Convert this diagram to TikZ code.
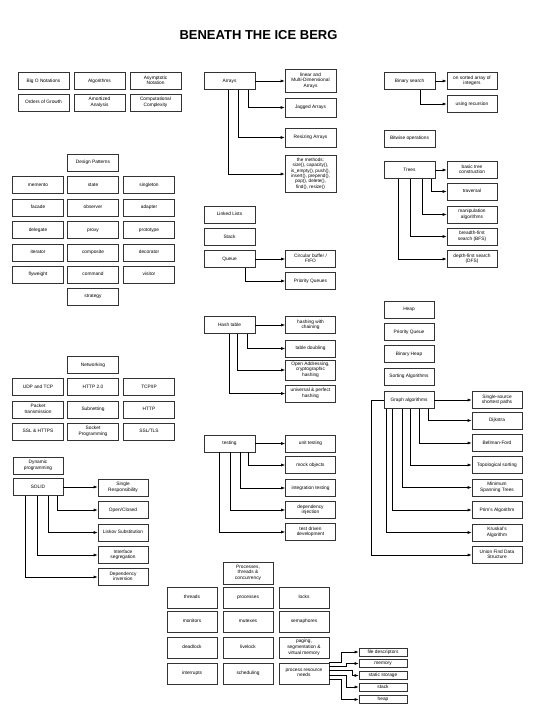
\documentclass[tikz,border=0pt]{standalone}
\usepackage{fontspec}
\setmainfont{Liberation Sans}
\usetikzlibrary{arrows.meta}
\definecolor{boxline}{HTML}{333333}

\tikzset{
  box/.style={draw=boxline,line width=0.6pt,minimum width=51pt,minimum height=17pt,
    inner sep=0.5pt,align=center,font=\fontsize{4.8}{5.6}\selectfont,
    execute at begin node=\strut,execute at end node=\strut},
  smallbox/.style={box,minimum width=48pt,minimum height=8pt},
  link/.style={-{Latex[length=4pt,width=3pt]},line width=0.6pt},
}

\begin{document}
\begin{tikzpicture}[x=1pt,y=-1pt]
  \useasboundingbox (0,0) rectangle (534,714);
  \node[font=\fontsize{13}{15}\selectfont\bfseries] (title) at (258.5,35) {BENEATH THE ICE BERG};

  % complexity
  \node[box] (bigo)   at (43.5,81)    {Big O Notations};
  \node[box] (algos)  at (99.5,81)    {Algorithms};
  \node[box] (asym)   at (155.5,81)   {Asymptotic\\Notation};
  \node[box] (orders) at (43.5,102.5) {Orders of Growth};
  \node[box] (amort)  at (99.5,102.5) {Amortized\\Analysis};
  \node[box] (compl)  at (155.5,102.5) {Computational\\Complexity};

  % arrays
  \node[box] (arr) at (229.5,81) {Arrays};
  \node[box,minimum height=23pt] (arrlin) at (310.5,81) {linear and\\Multi-Dimensional\\Arrays};
  \node[box,minimum height=19pt] (arrjag) at (310.5,107.5) {Jagged Arrays};
  \node[box,minimum height=19pt] (arrres) at (310.5,137.5) {Resizing Arrays};
  \node[box,minimum height=37pt,font=\fontsize{4.7}{5.3}\selectfont] (arrmeth) at (310.5,174) {the methods:\\size(), capacity(),\\is\_empty(), push(),\\insert(), prepend(),\\pop(), delete(),\\find(), resize()};
  \draw[link] (arr.east) -- (arrlin.west |- arr.east);
  \draw[link] ([xshift=-7pt]arr.south east) |- (arrjag.west);
  \draw[link] ([xshift=-17pt]arr.south east) |- (arrres.west);
  \draw[link] ([xshift=-27pt]arr.south east) |- (arrmeth.west);

  % binary search
  \node[box] (bsearch) at (409.5,81) {Binary search};
  \node[box,minimum width=50pt] (bsorted) at (472,81) {on sorted array of\\integers};
  \node[box,minimum width=50pt] (brec) at (472,104) {using recursion};
  \draw[link] (bsearch.east) -- (bsorted.west);
  \draw[link] ([xshift=-15pt]bsearch.south east) |- (brec.west);

  \node[box] (bitwise) at (409.5,138.5) {Bitwise operations};

  % trees
  \node[box] (trees) at (409.5,170) {Trees};
  \node[box,minimum width=50pt] (tbasic) at (472,170)   {basic tree\\construction};
  \node[box,minimum width=50pt] (ttrav)  at (472,191.5) {traversal};
  \node[box,minimum width=50pt] (tmanip) at (472,214.5) {manipulation\\algorithms};
  \node[box,minimum width=50pt] (tbfs)   at (472,236.5) {breadth-first\\search (BFS)};
  \node[box,minimum width=50pt] (tdfs)   at (472,259)   {depth-first search\\(DFS)};
  \draw[link] (trees.east) -- (tbasic.west);
  \draw[link] ([xshift=-4pt]trees.south east) |- (ttrav.west);
  \draw[link] ([xshift=-13pt]trees.south east) |- (tmanip.west);
  \draw[link] ([xshift=-25pt]trees.south east) |- (tbfs.west);
  \draw[link] ([xshift=-37pt]trees.south east) |- (tdfs.west);

  % design patterns
  \node[box] (dpat) at (93,162.5) {Design Patterns};
  \node[box] (memento)   at (38,185)    {memento};
  \node[box] (state)     at (93,185)    {state};
  \node[box] (singleton) at (149,185)   {singleton};
  \node[box] (facade)    at (38,207.5)  {facade};
  \node[box] (observer)  at (93,207.5)  {observer};
  \node[box] (adapter)   at (149,207.5) {adapter};
  \node[box] (delegate)  at (38,230)    {delegate};
  \node[box] (proxy)     at (93,230)    {proxy};
  \node[box] (prototype) at (149,230)   {prototype};
  \node[box] (iterator)  at (38,252.5)  {iterator};
  \node[box] (composite) at (93,252.5)  {composite};
  \node[box] (decorator) at (149,252.5) {decorator};
  \node[box] (flyweight) at (38,274.5)  {flyweight};
  \node[box] (command)   at (93,274.5)  {command};
  \node[box] (visitor)   at (149,274.5) {visitor};
  \node[box] (strategy)  at (93,296.5)  {strategy};

  % lists, stack, queue
  \node[box] (lists) at (229.5,214.5) {Linked Lists};
  \node[box] (stack) at (229.5,237)   {Stack};
  \node[box] (queue) at (229.5,259)   {Queue};
  \node[box,minimum width=50pt] (qcirc) at (310.5,259) {Circular buffer /\\FIFO};
  \node[box,minimum width=50pt] (qprio) at (310.5,281) {Priority Queues};
  \draw[link] (queue.east) -- (qcirc.west);
  \draw[link] ([xshift=-10pt]queue.south east) |- (qprio.west);

  % hash table
  \node[box] (hash) at (229.5,325) {Hash table};
  \node[box,minimum width=50pt] (hchain) at (310.5,325)   {hashing with\\chaining};
  \node[box,minimum width=50pt] (hdoub)  at (310.5,348.5) {table doubling};
  \node[box,minimum width=50pt,minimum height=20pt] (hopen) at (310.5,370) {Open Addressing,\\cryptographic\\hashing};
  \node[box,minimum width=50pt] (huniv)  at (310.5,393.5) {universal \& perfect\\hashing};
  \draw[link] (hash.east) -- (hchain.west);
  \draw[link] ([xshift=-8pt]hash.south east) |- (hdoub.west);
  \draw[link] ([xshift=-18pt]hash.south east) |- (hopen.west);
  \draw[link] ([xshift=-26pt]hash.south east) |- (huniv.west);

  % heaps and graphs
  \node[box,minimum width=50pt] (heap)    at (409,309.5) {Heap};
  \node[box,minimum width=50pt] (pqueue)  at (409,332)   {Priority Queue};
  \node[box,minimum width=50pt] (bheap)   at (409,354)   {Binary Heap};
  \node[box,minimum width=50pt] (sorting) at (409,376.5) {Sorting Algorithms};
  \node[box,minimum width=50pt] (graph)   at (409,400)   {Graph algorithms};
  \node[box,minimum width=50pt] (gsssp) at (497,400)   {Single-source\\shortest paths};
  \node[box,minimum width=50pt] (gdijk) at (497,420.5) {Dijkstra};
  \node[box,minimum width=50pt] (gbell) at (497,443)   {Bellman-Ford};
  \node[box,minimum width=50pt] (gtopo) at (497,465)   {Topological sorting};
  \node[box,minimum width=50pt] (gmst)  at (497,487.5) {Minimum\\Spanning Trees};
  \node[box,minimum width=50pt] (gprim) at (497,510)   {Prim's Algorithm};
  \node[box,minimum width=50pt] (gkrus) at (497,532.5) {Kruskal's\\Algorithm};
  \node[box,minimum width=50pt] (guf)   at (497,555)   {Union Find Data\\Structure};
  \draw[link] (graph.east) -- (gsssp.west);
  \draw[link] ([xshift=-6pt]graph.south east) |- (gdijk.west);
  \draw[link] ([xshift=-15pt]graph.south east) |- (gbell.west);
  \draw[link] ([xshift=-24pt]graph.south east) |- (gtopo.west);
  \draw[link] ([xshift=-32pt]graph.south east) |- (gmst.west);
  \draw[link] ([xshift=-42pt]graph.south east) |- (gprim.west);
  \draw[link] ([xshift=-48pt]graph.south east) |- (gkrus.west);
  \draw[link] (graph.west) -- ++(-12pt,0) |- (guf.west);

  % networking
  \node[box] (net) at (93,365) {Networking};
  \node[box] (udp)    at (38,387)    {UDP and TCP};
  \node[box] (http2)  at (93,387)    {HTTP 2.0};
  \node[box] (tcpip)  at (149,387)   {TCP/IP};
  \node[box] (packet) at (38,409.5)  {Packet\\transmission};
  \node[box] (subnet) at (93,409.5)  {Subnetting};
  \node[box] (http)   at (149,409.5) {HTTP};
  \node[box] (https)  at (38,431.5)  {SSL \& HTTPS};
  \node[box] (socket) at (93,431.5)  {Socket\\Programming};
  \node[box] (ssltls) at (149,431.5) {SSL/TLS};

  % testing
  \node[box] (testing) at (229.5,443.5) {testing};
  \node[box,minimum width=50pt] (tunit) at (310.5,443.5) {unit testing};
  \node[box,minimum width=50pt] (tmock) at (310.5,465)   {mock objects};
  \node[box,minimum width=50pt] (tint)  at (310.5,488)   {integration testing};
  \node[box,minimum width=50pt] (tdep)  at (310.5,510)   {dependency\\injection};
  \node[box,minimum width=50pt] (ttdd)  at (310.5,532)   {test driven\\development};
  \draw[link] (testing.east) -- (tunit.west);
  \draw[link] ([xshift=-7pt]testing.south east) |- (tmock.west);
  \draw[link] ([xshift=-15pt]testing.south east) |- (tint.west);
  \draw[link] ([xshift=-25pt]testing.south east) |- (tdep.west);
  \draw[link] ([xshift=-36pt]testing.south east) |- (ttdd.west);

  % solid
  \node[box,minimum width=50pt] (dynprog) at (38,465.5) {Dynamic\\programming};
  \node[box,minimum width=50pt] (solid)   at (38,487)   {SOLID};
  \node[box,minimum width=50pt] (ssingle) at (123,487.5) {Single\\Responsibility};
  \node[box,minimum width=50pt] (sopen)   at (123,510)   {Open/Closed};
  \node[box,minimum width=50pt] (sliskov) at (123,532.5) {Liskov Substitution};
  \node[box,minimum width=50pt] (sinter)  at (123,555)   {Interface\\segregation};
  \node[box,minimum width=50pt] (sdep)    at (123,577)   {Dependency\\inversion};
  \draw[link] (solid.east) -- (ssingle.west |- solid.east);
  \draw[link] ([xshift=-6pt]solid.south east) |- (sopen.west);
  \draw[link] ([xshift=-15pt]solid.south east) |- (sliskov.west);
  \draw[link] ([xshift=-26pt]solid.south east) |- (sinter.west);
  \draw[link] ([xshift=-38pt]solid.south east) |- (sdep.west);

  % concurrency
  \node[box,minimum width=50pt,minimum height=22pt] (procs) at (248,573) {Processes,\\threads \&\\concurrency};
  \node[box,minimum width=50pt,minimum height=21pt] (threads)    at (192,597.5) {threads};
  \node[box,minimum width=50pt,minimum height=21pt] (processes)  at (248,597.5) {processes};
  \node[box,minimum width=50pt,minimum height=21pt] (locks)      at (304,597.5) {locks};
  \node[box,minimum width=50pt,minimum height=21pt] (monitors)   at (192,621.5) {monitors};
  \node[box,minimum width=50pt,minimum height=21pt] (mutexes)    at (248,621.5) {mutexes};
  \node[box,minimum width=50pt,minimum height=21pt] (semaphores) at (304,621.5) {semaphores};
  \node[box,minimum width=50pt,minimum height=21pt] (deadlock)   at (192,647.5) {deadlock};
  \node[box,minimum width=50pt,minimum height=21pt] (livelock)   at (248,647.5) {livelock};
  \node[box,minimum width=50pt,minimum height=21pt] (paging)     at (304,647.5) {paging,\\segmentation \&\\virtual memory};
  \node[box,minimum width=50pt,minimum height=21pt] (interrupts) at (192,673.5) {interrupts};
  \node[box,minimum width=50pt,minimum height=21pt] (scheduling) at (248,673.5) {scheduling};
  \node[box,minimum width=50pt,minimum height=21pt] (prneeds)    at (304,673.5) {process resource\\needs};
  \node[smallbox] (fdesc)  at (383,652)   {file descriptors};
  \node[smallbox] (memory) at (383,663.5) {memory};
  \node[smallbox] (static) at (383,675.5) {static storage};
  \node[smallbox] (pstack) at (383,687)   {stack};
  \node[smallbox] (pheap)  at (383,699.5) {heap};
  \draw[link] ([yshift=11.5pt]prneeds.east) -- ++(12pt,0) |- (fdesc.west);
  \draw[link] ([yshift=7.5pt]prneeds.east) -- ++(17pt,0) |- (memory.west);
  \draw[link] ([yshift=3.5pt]prneeds.east) -- ++(23pt,0) |- (static.west);
  \draw[link] ([yshift=-1.5pt]prneeds.east) -- ++(17pt,0) |- (pstack.west);
  \draw[link] ([yshift=-5.5pt]prneeds.east) -- ++(12pt,0) |- (pheap.west);
\end{tikzpicture}
\end{document}
